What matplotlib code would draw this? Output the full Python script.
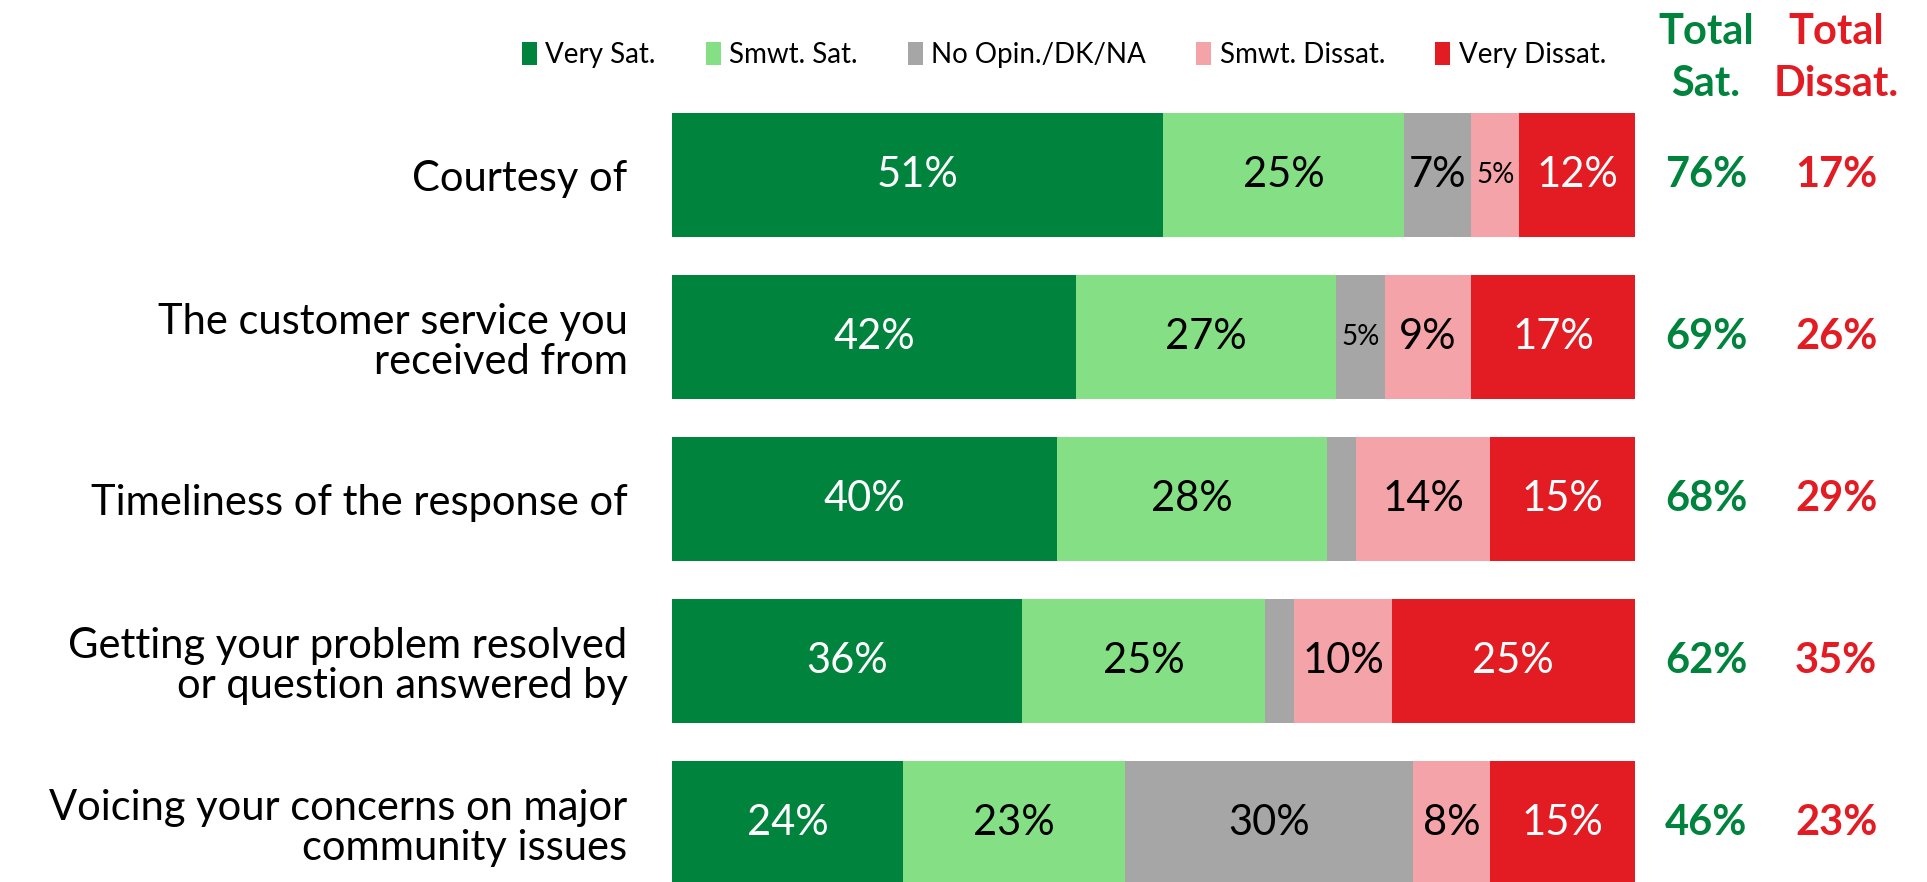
import matplotlib.pyplot as plt
import numpy as np

plt.rcParams['font.family'] = ['Lato', 'DejaVu Sans']

# Data

categories = ['Courtesy of',
              'The customer service you\nreceived from',
              'Timeliness of the response of',
              'Getting your problem resolved\nor question answered by',
              'Voicing your concerns on major\ncommunity issues']
series_names = ['Very Sat.', 'Smwt. Sat.', 'No Opin./DK/NA', 'Smwt. Dissat.', 'Very Dissat.']
very_sat = [51, 42, 40, 36, 24]
smwt_sat = [25, 27, 28, 25, 23]
no_opin = [7, 5, 3, 3, 30]
smwt_dissat = [5, 9, 14, 10, 8]
very_dissat = [12, 17, 15, 25, 15]
total_sat = [76, 69, 68, 62, 46]
total_dissat = [17, 26, 29, 35, 23]

colors = ['#00843D', '#85E085', '#A6A6A6', '#F4A4A8', '#E31B23']
text_colors = ['white', 'black', 'black', 'black', 'white']

fig = plt.figure(figsize=(19.27, 8.82), dpi=100)
ax = fig.add_axes([0.3487, -0.025, 0.4997, 0.918])

values = np.array([very_sat, smwt_sat, no_opin, smwt_dissat, very_dissat], dtype=float)
# each bar is drawn as a share of its row so all bars fill the width
shares = values / values.sum(axis=0) * 100
y = np.arange(len(categories))
left = np.zeros(len(categories))

for i, name in enumerate(series_names):
    ax.barh(y, shares[i], left=left, height=0.765, color=colors[i], label=name)
    for j in range(len(categories)):
        v = values[i][j]
        if v >= 4:
            size = 20 if v < 6 else 30
            ax.text(left[j] + shares[i][j] / 2, y[j], '%d%%' % v, ha='center', va='center',
                    color=text_colors[i], fontsize=size)
    left += shares[i]

# Totals columns to the right of the bars

for j in range(len(categories)):
    ax.text(107.4, y[j], '%d%%' % total_sat[j], ha='center', va='center',
            color=colors[0], fontsize=30, fontweight='bold', clip_on=False)
    ax.text(120.9, y[j], '%d%%' % total_dissat[j], ha='center', va='center',
            color=colors[4], fontsize=30, fontweight='bold', clip_on=False)

fig.text(1706 / 1927, 1 - 58 / 882, 'Total\nSat.', ha='center', va='center',
         color=colors[0], fontsize=30, fontweight='bold', linespacing=1.45)
fig.text(1836 / 1927, 1 - 58 / 882, 'Total\nDissat.', ha='center', va='center',
         color=colors[4], fontsize=30, fontweight='bold', linespacing=1.45)

ax.set_xlim(0, 100)
ax.set_ylim(4.5, -0.5)
ax.set_yticks(y)
ax.set_yticklabels(categories, fontsize=30, ha='right', multialignment='right', linespacing=1.08)
ax.tick_params(axis='y', length=0, pad=32)
ax.set_xticks([])
for s in ax.spines.values():
    s.set_visible(False)

fig.legend(loc='center', bbox_to_anchor=(0.552, 1 - 55 / 882), ncol=5, frameon=False,
           fontsize=20, handlelength=0.55, handleheight=0.9, handletextpad=0.3,
           columnspacing=1.8)

fig.savefig('out.png', dpi=100)
